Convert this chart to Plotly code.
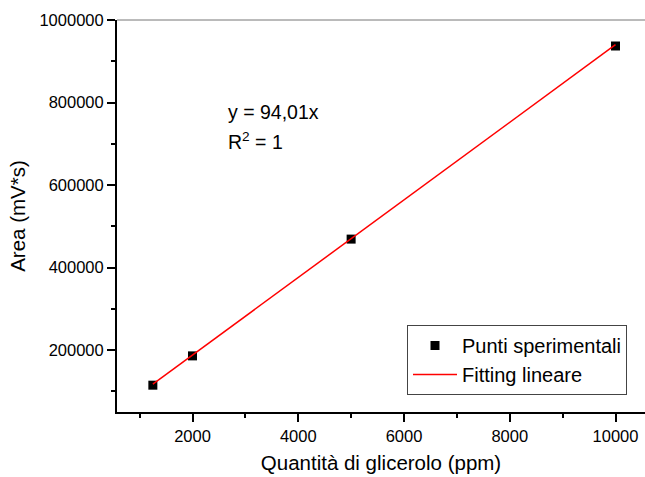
import plotly.graph_objects as go

x_pts = [1250, 2000, 5000, 10000]
y_pts = [115000, 186000, 469000, 937000]
fit_x = [1250, 10000]
fit_y = [117512, 940100]
x_ticks = [2000, 4000, 6000, 8000, 10000]
y_ticks = [200000, 400000, 600000, 800000, 1000000]

font = "Liberation Sans, Arial, sans-serif"

fig = go.Figure()
fig.add_trace(go.Scatter(x=x_pts, y=y_pts, mode="markers", name="Punti sperimentali",
                         marker=dict(symbol="square", size=9, color="black")))
fig.add_trace(go.Scatter(x=fit_x, y=fit_y, mode="lines", name="Fitting lineare",
                         line=dict(color="red", width=1.5)))

axis_common = dict(showgrid=False, zeroline=False, showline=True, linecolor="black", linewidth=2,
                   ticks="outside", ticklen=8, tickwidth=1.5, tickcolor="black",
                   tickfont=dict(family=font, size=16.5, color="black"),
                   minor=dict(ticks="outside", ticklen=4, tickwidth=1.5, tickcolor="black"))

fig.update_xaxes(range=[572, 10558], tickvals=x_ticks, ticktext=[str(v) for v in x_ticks],
                 title=dict(text="Quantità di glicerolo (ppm)", font=dict(family=font, size=20.5, color="black"), standoff=12),
                 minor_dtick=1000, minor_tick0=0, **axis_common)
fig.update_yaxes(range=[50000, 1000000], tickvals=y_ticks, ticktext=[str(v) for v in y_ticks],
                 title=dict(text="Area (mV*s)", font=dict(family=font, size=20.5, color="black"), standoff=8),
                 minor_dtick=100000, minor_tick0=0, **axis_common)

fig.add_shape(type="line", xref="paper", yref="paper", x0=0, x1=1, y0=1, y1=1,
              line=dict(color="#777777", width=1))

ann_font = dict(family=font, size=19.5, color="black")
fig.add_annotation(x=(226-117)/528, y=(412-112)/392, xref="paper", yref="paper",
                   text="y = 94,01x", showarrow=False, xanchor="left", yanchor="middle", font=ann_font)
fig.add_annotation(x=(226-117)/528, y=(412-141)/392, xref="paper", yref="paper",
                   text="R<sup>2</sup> = 1", showarrow=False, xanchor="left", yanchor="middle", font=ann_font)

fig.update_layout(width=645, height=477, margin=dict(l=117, r=0, t=20, b=65),
                  plot_bgcolor="white", paper_bgcolor="white",
                  legend=dict(x=(627-117)/528, y=(412-325)/392, xanchor="right", yanchor="top",
                              bordercolor="#444444", borderwidth=1, bgcolor="white",
                              font=dict(family=font, size=20, color="black"),
                              tracegroupgap=0, itemwidth=44))

fig.write_html("out.html")
